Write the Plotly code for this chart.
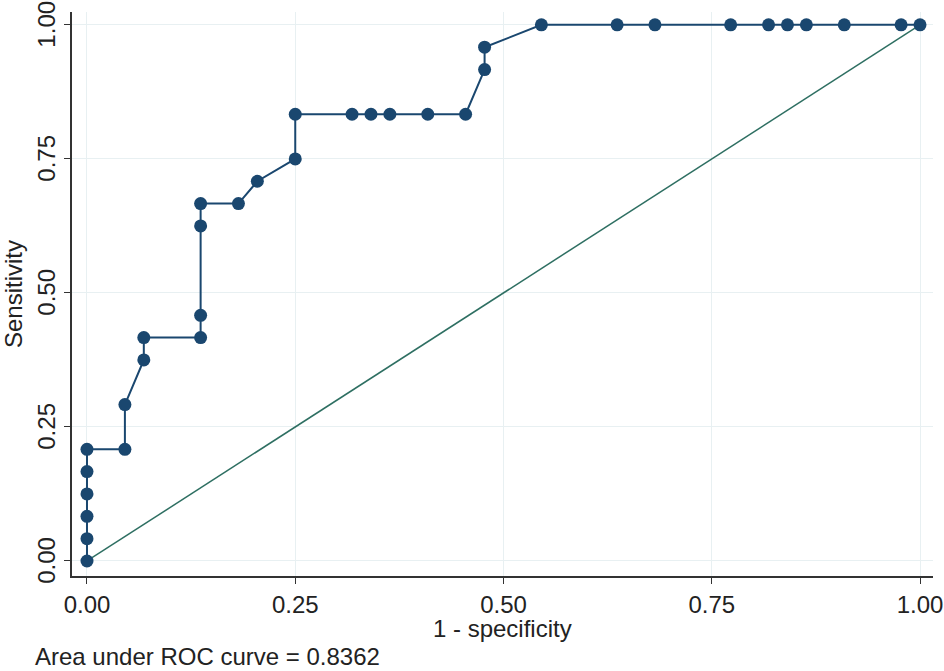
import plotly.graph_objects as go

# 1 - specificity (x) and sensitivity (y) for each ROC point
fpr = [0.0, 0.0, 0.0, 0.0, 0.0, 0.0, 0.0455, 0.0455, 0.0682, 0.0682,
       0.1364, 0.1364, 0.1364, 0.1364, 0.1818, 0.2045, 0.25, 0.25,
       0.3182, 0.3409, 0.3636, 0.4091, 0.4545, 0.4773, 0.4773, 0.5455,
       0.6364, 0.6818, 0.7727, 0.8182, 0.8409, 0.8636, 0.9091, 0.9773, 1.0]
tpr = [0.0, 0.0417, 0.0833, 0.125, 0.1667, 0.2083, 0.2083, 0.2917, 0.375, 0.4167,
       0.4167, 0.4583, 0.625, 0.6667, 0.6667, 0.7083, 0.75, 0.8333,
       0.8333, 0.8333, 0.8333, 0.8333, 0.8333, 0.9167, 0.9583, 1.0,
       1.0, 1.0, 1.0, 1.0, 1.0, 1.0, 1.0, 1.0, 1.0]
ref_x = [0.0, 1.0]
ref_y = [0.0, 1.0]
tick_vals = [0.0, 0.25, 0.5, 0.75, 1.0]
tick_text = ["0.00", "0.25", "0.50", "0.75", "1.00"]
auc_text = "Area under ROC curve = 0.8362"

NAVY = "#1a476f"
GREEN = "#2e6f62"
FONT = "Liberation Sans, Arial, sans-serif"
FS = 24

fig = go.Figure()
fig.add_trace(go.Scatter(x=ref_x, y=ref_y, mode="lines",
                         line=dict(color=GREEN, width=1.5), showlegend=False,
                         hoverinfo="skip"))
fig.add_trace(go.Scatter(x=fpr, y=tpr, mode="lines+markers",
                         line=dict(color=NAVY, width=2),
                         marker=dict(color=NAVY, size=13),
                         showlegend=False))

axis_common = dict(
    tickvals=tick_vals, ticktext=tick_text,
    showgrid=True, gridcolor="#e8f0f2", gridwidth=1,
    zeroline=False, showline=True, linecolor="#333333", linewidth=1.5,
    ticks="outside", ticklen=6, tickwidth=1, tickcolor="#333333",
    tickfont=dict(family=FONT, size=FS, color="#222222"),
    ticklabeloverflow="allow", automargin=False,
)
fig.update_xaxes(range=[-0.018, 1.0156], **axis_common)
fig.update_yaxes(range=[-0.028, 1.024], tickangle=-90, ticklabelshift=3,
                 **axis_common)

fig.add_annotation(text="1 - specificity", xref="paper", yref="paper",
                   x=0.5, y=0, yshift=-52, xanchor="center", yanchor="middle",
                   showarrow=False, font=dict(family=FONT, size=FS, color="#222222"))
fig.add_annotation(text=auc_text, xref="paper", yref="paper",
                   x=-0.0453, y=0, yshift=-80, xanchor="left", yanchor="middle",
                   showarrow=False, font=dict(family=FONT, size=FS, color="#222222"))
fig.add_annotation(text="Sensitivity", xref="paper", yref="paper",
                   x=0, y=0.5, xshift=-59, xanchor="center", yanchor="middle",
                   textangle=-90, showarrow=False,
                   font=dict(family=FONT, size=FS, color="#222222"))

fig.update_layout(
    width=944, height=671,
    margin=dict(l=72, r=11, t=12, b=95),
    paper_bgcolor="white", plot_bgcolor="white",
)
fig.write_html("out.html", config={"displayModeBar": False},
               post_script="document.body.style.margin='0';document.body.style.padding='0';")
